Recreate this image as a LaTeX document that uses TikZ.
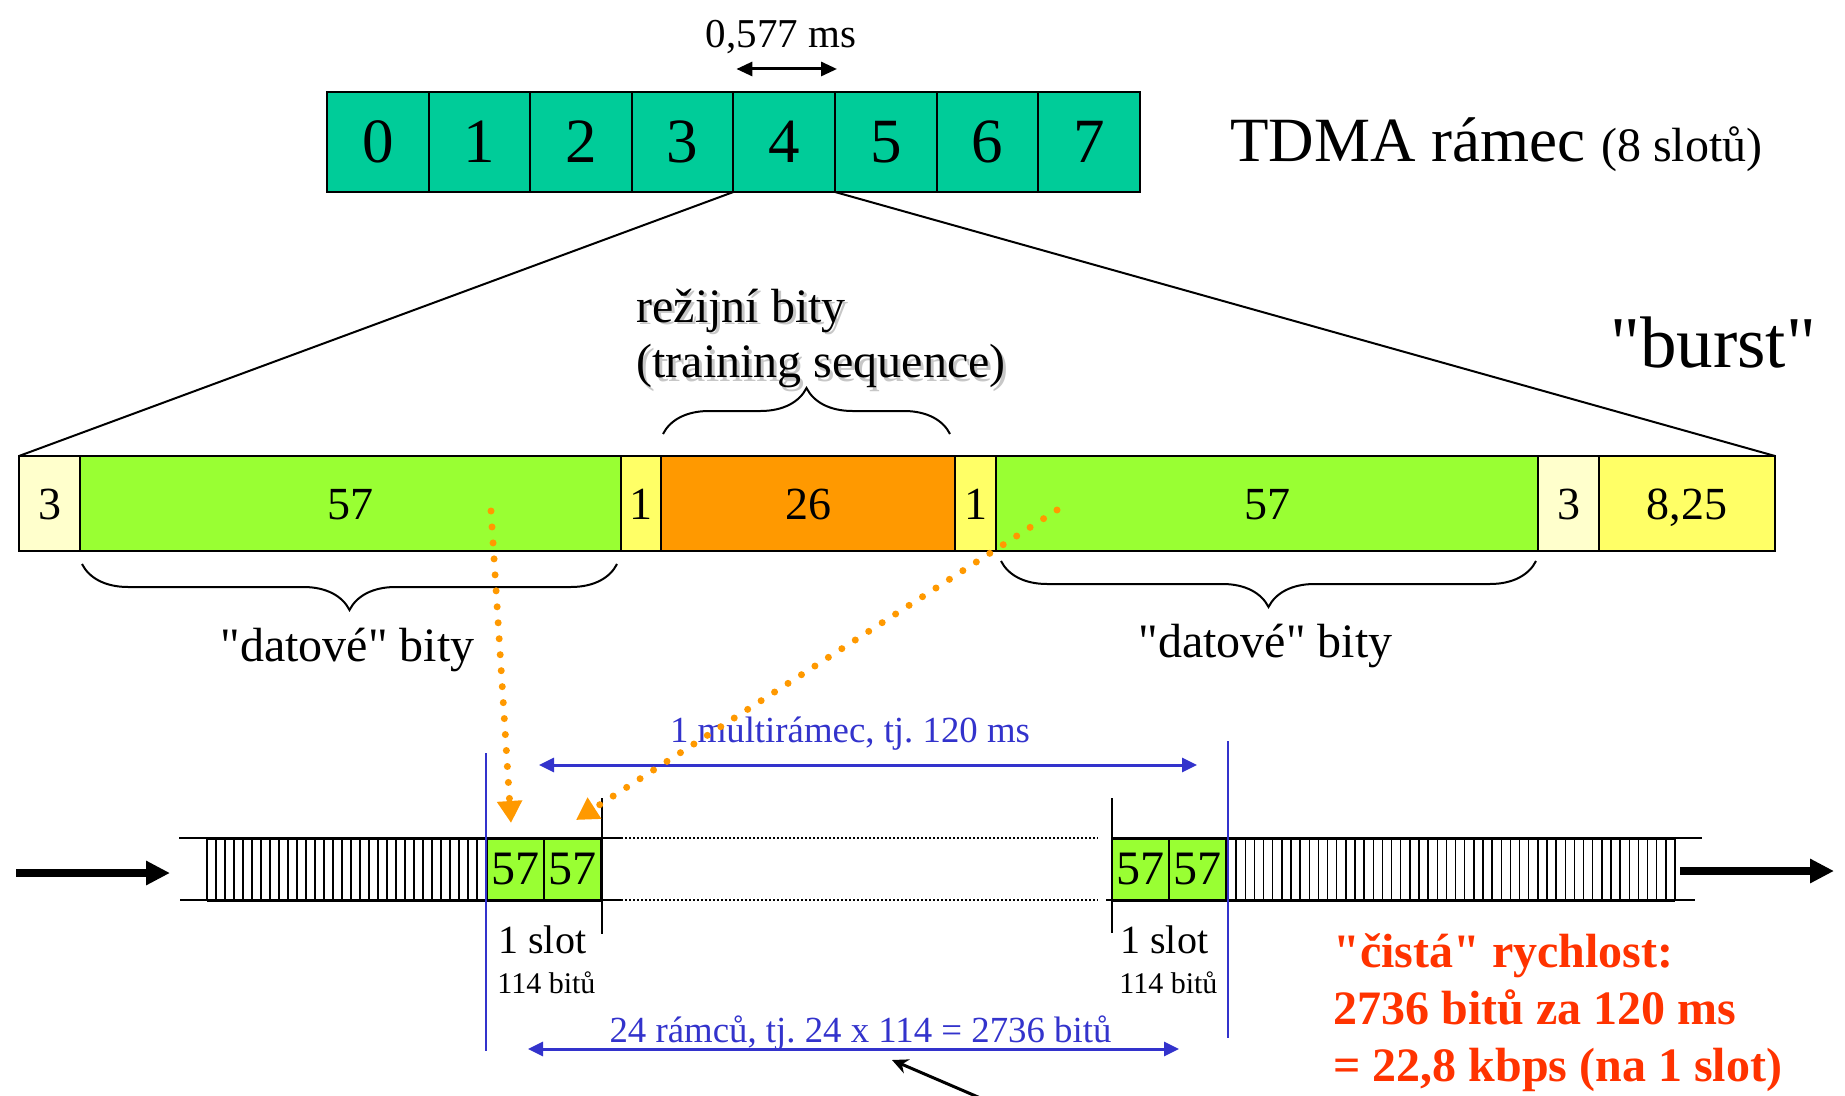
\documentclass[tikz,border=0pt]{standalone}
\usepackage{fontspec}
\setmainfont{Liberation Serif}[Ligatures=TeXOff]
\usepackage{tikz}
\usetikzlibrary{arrows.meta,positioning,decorations.pathreplacing}
\frenchspacing

\definecolor{tdmagreen}{RGB}{0,204,153}
\definecolor{datagreen}{RGB}{153,255,51}
\definecolor{trainorange}{RGB}{255,153,0}
\definecolor{flagyel}{RGB}{255,255,102}
\definecolor{tailyel}{RGB}{255,255,204}
\definecolor{dimblue}{RGB}{51,51,204}
\definecolor{ratered}{RGB}{255,51,0}

\tikzset{
  tdmaslot/.style={draw,line width=1pt,fill=tdmagreen,minimum width=50.8pt,minimum height=50pt,
    inner sep=0pt,outer sep=0pt,font=\fontsize{31.5}{36}\selectfont},
  burstcell/.style={draw,line width=1.2pt,minimum height=47.5pt,inner sep=0pt,outer sep=0pt,
    text height=16pt,text depth=0pt,font=\fontsize{23}{27}\selectfont},
  slotcell/.style={draw,line width=0.8pt,fill=datagreen,minimum width=28.5pt,minimum height=31pt,
    inner sep=0pt,outer sep=0pt,font=\fontsize{24}{28}\selectfont},
  lbl/.style={inner sep=0pt,anchor=base west},
  curly/.style={decorate,decoration={brace,amplitude=23pt},line width=1pt},
  timearrow/.style={line width=1.5pt,{Triangle[length=8pt,width=7pt]}-{Triangle[length=8pt,width=7pt]}},
  dimarrow/.style={dimblue,line width=1.5pt,{Triangle[length=7.5pt,width=7pt]}-{Triangle[length=7.5pt,width=7pt]}},
  dimline/.style={dimblue,line width=1pt},
  dimlabel/.style={dimblue,inner sep=0pt,anchor=base,font=\fontsize{18.4}{22}\selectfont},
  flowdots/.style={trainorange,line width=3.5pt,line cap=round,dash pattern=on 0pt off 8pt,
    -{Triangle[length=11pt,width=12pt]}},
  bigarrow/.style={line width=4pt,-{Triangle[length=12pt,width=11.5pt]}},
}

\begin{document}
\begin{tikzpicture}[x=0.5pt,y=-0.5pt]
  \useasboundingbox (0,0) rectangle (1845,1096); % page

  % TDMA frame
  \foreach \i in {0,...,7}
    \node[tdmaslot] (s\i) at ({377.8+101.6*\i},142) {\i}; % slots
  \node[lbl,font=\fontsize{31.5}{36}\selectfont] (frame) at (1230,162) {TDMA rámec {\fontsize{24}{28}\selectfont (8 slotů)}}; % frame label
  \draw[timearrow] ([shift={(3,-23)}]s4.north west) -- ([shift={(2,-23)}]s4.north east); % slot length
  \node[inner sep=0pt,anchor=base,font=\fontsize{20.5}{24}\selectfont] (slotlen) at (781,48) {0,577 ms}; % slot length label

  % burst
  \node[burstcell,fill=tailyel,minimum width=30.5pt] (b1) at (49.5,503.5) {3};
  \node[burstcell,fill=datagreen,minimum width=270.5pt,right=0pt of b1] (b2) {57};
  \node[burstcell,fill=flagyel,minimum width=20pt,right=0pt of b2] (b3) {1};
  \node[burstcell,fill=trainorange,minimum width=147pt,right=0pt of b3] (b4) {26};
  \node[burstcell,fill=flagyel,minimum width=20.5pt,right=0pt of b4] (b5) {1};
  \node[burstcell,fill=datagreen,minimum width=271pt,right=0pt of b5] (b6) {57};
  \node[burstcell,fill=tailyel,minimum width=30.5pt,right=0pt of b6] (b7) {3};
  \node[burstcell,fill=flagyel,minimum width=88pt,right=0pt of b7] (b8) {8,25};
  \draw[line width=1pt] (s4.south west) -- (b1.north west); % zoom lines
  \draw[line width=1pt] (s5.south west) -- (b8.north east);
  \node[lbl,font=\fontsize{36.5}{40}\selectfont] (burst) at (1610,367) {"burst"}; % burst label

  % braces and their labels
  \draw[curly] ([shift={(2,-22)}]b4.north west) -- ([shift={(-5,-22)}]b4.north east); % training
  \node[lbl,text=black!22,font=\fontsize{24}{28}\selectfont] (overheadsh) at (639,325) {režijní bity}; % shadow
  \node[lbl,text=black!22,font=\fontsize{24}{28}\selectfont] (trainingsh) at (639,381) {(training sequence)};
  \node[lbl,font=\fontsize{24}{28}\selectfont] (overhead) at (636,322) {režijní bity};
  \node[lbl,font=\fontsize{24}{28}\selectfont] (training) at (636,378) {(training sequence)};
  \draw[curly] ([shift={(-4,13)}]b2.south east) -- ([shift={(2,13)}]b2.south west); % data left
  \draw[curly] ([shift={(-2,10)}]b6.south east) -- ([shift={(5,10)}]b6.south west); % data right
  \node[inner sep=0pt,anchor=base,font=\fontsize{24}{28}\selectfont] (dataL) at (347.5,661) {"datové" bity};
  \node[inner sep=0pt,anchor=base,font=\fontsize{24}{28}\selectfont] (dataR) at (1265.5,657) {"datové" bity};

  % multiframe strip
  \node[slotcell] (g1) at (515.5,869) {57};
  \node[slotcell,right=0pt of g1] (g2) {57};
  \node[slotcell] (g3) at (1140.5,869) {57};
  \node[slotcell,right=0pt of g3] (g4) {57};
  \draw[line width=1.5pt] (g1.north west) -- (g2.north east) (g1.south west) -- (g2.south east); % slot edges
  \draw[line width=1.5pt] (g3.north west) -- (g4.north east) (g3.south west) -- (g4.south east);
  \draw[line width=0.8pt] (179,838) -- (621,838) (180,900) -- (621,900); % strip rails
  \draw[line width=0.8pt] (1112,838) -- (1702,838) (1106,900) -- (1695,900);
  \draw[line width=0.6pt,dash pattern=on 1pt off 1pt] (621,838) -- (1098,838) (621,900) -- (1098,900); % gap
  \foreach \k in {0,...,31}
    \draw[line width=0.7pt] ({207+9*\k},838) -- ({207+9*\k},900); % frames before
  \foreach \k in {0,...,49}
    \draw[line width=0.7pt] ({1227+448/49*\k},838) -- ({1227+448/49*\k},900); % frames after
  \draw[line width=1.5pt] (207,838) -- (g1.north west) (207,900) -- (g1.south west);
  \draw[line width=1.5pt] (g4.north east) -- (1675,838) (g4.south east) -- (1675,900);
  \draw[line width=1pt] ([shift={(1,-40)}]g2.north east) -- ([shift={(1,34)}]g2.south east); % slot ticks
  \draw[line width=1pt] ([shift={(0,-40)}]g3.north west) -- ([shift={(0,33)}]g3.south west);
  \node[lbl,font=\fontsize{20}{24}\selectfont] (slotL) at (498,953) {1 slot};
  \node[lbl,font=\fontsize{15}{18}\selectfont] (bitsL) at (497,993) {114 bitů};
  \node[lbl,font=\fontsize{20}{24}\selectfont] (slotR) at (1120,953) {1 slot};
  \node[lbl,font=\fontsize{15}{18}\selectfont] (bitsR) at (1119,993) {114 bitů};
  \draw[bigarrow] (16,873) -- (170,873); % time flow
  \draw[bigarrow] (1680,871) -- (1834,871);

  % dimensions
  \draw[dimline] (486,753) -- (486,1051); % period marks
  \draw[dimline] (1228,741) -- (1228,1038);
  \draw[dimarrow] (539,765) -- (1197,765); % multiframe
  \node[dimlabel] (multi) at (850,742) {1 multirámec, tj. 120 ms};
  \draw[dimarrow] (528,1049) -- (1179,1049); % bits per multiframe
  \node[dimlabel] (frames) at (860.5,1042) {24 rámců, tj. 24 x 114 = 2736 bitů};
  \draw[line width=1.5pt,-{Stealth[length=8pt,width=7.5pt]}] (985,1100) -- (892,1060); % pointer

  % net rate
  \node[lbl,text=ratered,font=\fontsize{24}{28}\selectfont\bfseries] (rate1) at (1333,967) {"čistá" rychlost:};
  \node[lbl,text=ratered,font=\fontsize{24}{28}\selectfont\bfseries] (rate2) at (1333,1024) {2736 bitů za 120 ms};
  \node[lbl,text=ratered,font=\fontsize{24}{28}\selectfont\bfseries] (rate3) at (1333,1081) {= 22,8 kbps (na 1 slot)};

  % data bits into the slot
  \coordinate (src1) at (491,511);
  \coordinate (dst1) at (511,823);
  \coordinate (src2) at (1057,510);
  \coordinate (dst2) at (576,820);
  \draw[flowdots] (src1) -- (dst1);
  \draw[flowdots] (src2) -- (dst2);
\end{tikzpicture}
\end{document}
